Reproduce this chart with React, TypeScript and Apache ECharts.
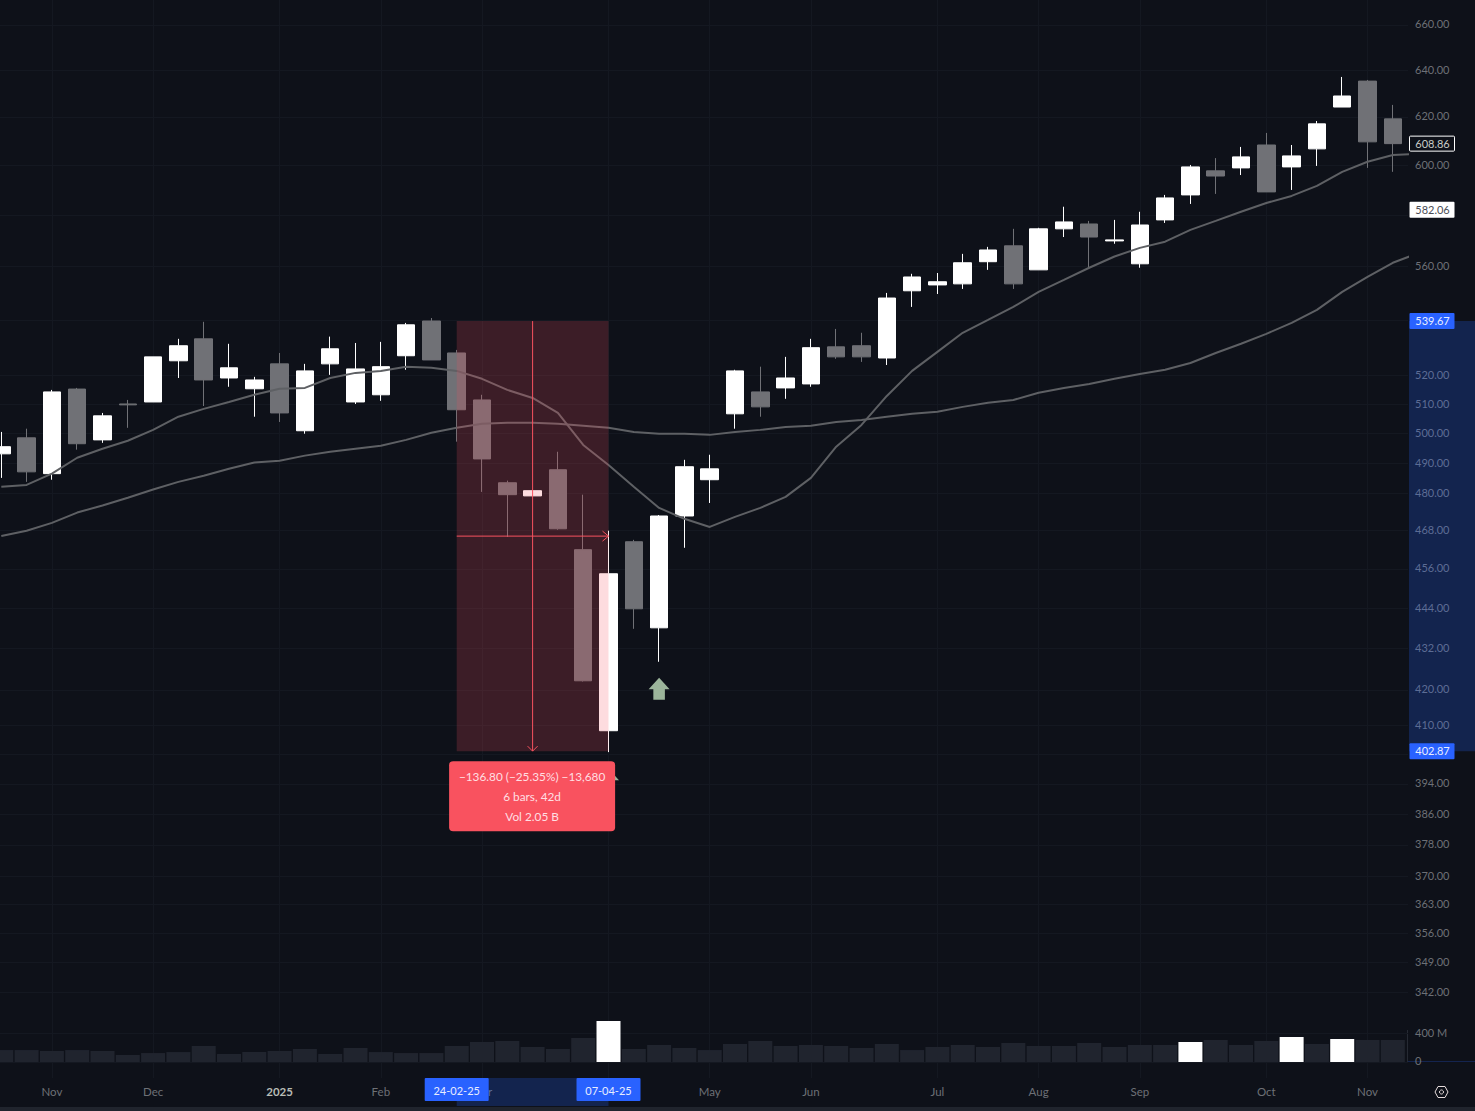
import React, { useEffect, useRef } from "react";
import * as echarts from "echarts";

const weeks = [
  "2024-10-21","2024-10-28","2024-11-04","2024-11-11","2024-11-18","2024-11-25","2024-12-02","2024-12-09","2024-12-16","2024-12-23",
  "2024-12-30","2025-01-06","2025-01-13","2025-01-20","2025-01-27","2025-02-03","2025-02-10","2025-02-17","2025-02-24","2025-03-03",
  "2025-03-10","2025-03-17","2025-03-24","2025-03-31","2025-04-07","2025-04-14","2025-04-21","2025-04-28","2025-05-05","2025-05-12",
  "2025-05-19","2025-05-26","2025-06-02","2025-06-09","2025-06-16","2025-06-23","2025-06-30","2025-07-07","2025-07-14","2025-07-21",
  "2025-07-28","2025-08-04","2025-08-11","2025-08-18","2025-08-25","2025-09-01","2025-09-08","2025-09-15","2025-09-22","2025-09-29",
  "2025-10-06","2025-10-13","2025-10-20","2025-10-27","2025-11-03","2025-11-10","2025-11-17",
];

// open, close, low, high
const candles = [
  [493.1,495.5,485.1,500.5],[498.5,487.1,483.8,501.6],[486.5,514.3,484.5,515.0],[515.3,496.5,494.5,515.7],[497.8,506.0,496.8,507.0],
  [510.1,509.8,501.9,511.5],[510.8,526.7,510.8,526.7],[525.3,530.7,519.2,533.2],[533.2,518.5,509.4,539.4],[519.2,522.8,516.1,531.4],
  [515.4,518.5,505.7,519.6],[524.2,507.0,503.9,528.1],[500.9,521.7,499.9,524.2],[524.2,529.6,520.3,534.0],[510.8,522.4,510.1,531.7],
  [513.3,523.2,511.2,532.1],[527.1,538.3,522.1,539.0],[539.7,525.6,525.6,540.8],[528.1,508.1,497.2,529.2],[511.5,491.4,480.5,513.3],
  [483.5,479.6,466.0,484.2],[479.2,480.9,479.2,480.9],[487.8,468.6,468.3,493.8],[462.0,422.6,422.4,479.6],[408.5,454.5,402.6,468.0],
  [464.5,443.8,437.8,465.1],[438.1,472.7,428.1,473.0],[472.7,488.8,462.6,491.1],[484.5,488.1,476.9,492.8],[506.7,521.7,501.6,522.1],
  [514.3,509.1,505.7,523.2],[515.7,519.2,511.9,526.7],[517.1,530.0,516.1,533.2],[530.3,526.7,526.0,536.8],[530.7,526.7,524.9,535.4],
  [526.3,548.2,523.8,550.1],[550.9,556.1,544.9,557.3],[553.1,554.3,549.7,557.6],[553.5,561.5,551.6,564.9],[561.9,566.4,558.8,567.6],
  [568.0,553.5,551.6,574.6],[558.8,574.6,558.8,575.0],[574.6,577.3,571.4,583.3],[576.5,571.4,559.2,577.7],[569.9,570.3,568.8,578.1],
  [561.1,576.1,559.6,581.3],[578.1,586.8,576.9,588.0],[588.0,599.3,584.4,600.1],[597.7,595.6,588.4,602.9],[598.9,603.4,596.0,607.5],
  [608.3,589.2,589.2,613.3],[599.3,603.8,590.0,608.3],[606.7,617.1,599.7,618.3],[624.2,628.9,624.2,637.1],[635.3,609.6,598.9,635.8],
  [619.2,608.86,597.3,625.1],
];

const maFast = [
  482.2,482.8,486.5,491.8,494.8,497.5,501.2,505.7,508.4,510.8,513.3,515.4,515.7,519.2,521.0,521.7,523.2,522.8,521.7,518.9,
  515.0,512.2,507.0,496.1,489.4,482.2,475.3,471.8,469.2,472.4,475.3,478.9,485.1,495.5,502.9,512.9,521.7,528.5,535.4,540.1,
  544.9,550.5,555.0,559.6,563.9,567.2,569.6,574.2,577.7,581.3,584.8,587.6,591.6,597.3,601.4,604.2,604.7,
];

const maSlow = [
  466.3,468.0,470.5,473.8,476.1,478.6,481.3,483.8,485.8,488.1,490.2,490.8,492.5,493.8,494.8,495.8,497.8,500.2,501.9,503.3,
  503.6,503.6,503.3,502.6,501.9,500.5,499.9,499.9,499.5,500.5,501.2,502.2,502.6,503.9,504.6,505.7,506.7,507.4,509.1,510.5,
  511.5,514.0,515.7,517.1,518.9,520.6,522.1,524.5,528.1,531.4,535.0,539.0,543.8,550.5,556.1,561.5,565.2,
];

const volumes = [
  168,168,155,168,155,98,126,140,225,112,140,155,183,112,197,140,126,126,225,281,295,211,183,337,576,183,239,197,168,253,
  295,225,239,225,197,253,168,211,239,211,267,225,225,267,211,239,239,281,309,239,295,351,253,323,309,309,
];
const highlightedVolumes = ["2025-04-07", "2025-09-15", "2025-10-13", "2025-10-27"];

const priceLabels = [660,640,620,600,560,520,510,500,490,480,468,456,444,432,420,410,394,386,378,370,363,356,349,342];
const priceGridOnly = [580,540,402];
const volumeTicks = [0, 400];
const monthTicks: [string, string][] = [
  ["2024-11-04","Nov"],["2024-12-02","Dec"],["2025-01-06","2025"],["2025-02-03","Feb"],["2025-03-03","Mar"],
  ["2025-05-05","May"],["2025-06-02","Jun"],["2025-07-07","Jul"],["2025-08-04","Aug"],["2025-09-01","Sep"],["2025-10-06","Oct"],["2025-11-03","Nov"],
];
const monthGridOnly = ["2025-04-07"];

const signalArrows: [string, number][] = [["2025-04-07", 395.1], ["2025-04-21", 420.3]];
const measureStart = "2025-02-24";
const measureEnd = "2025-04-07";
const measureHigh = 539.67;
const measureLow = 402.87;
const measureLines = ["\u2212136.80 (\u221225.35%) \u221213,680", "6 bars, 42d", "Vol 2.05 B"];
const lastPrice = 608.86;
const ma2Price = 582.06;
const dateTags = ["24-02-25", "07-04-25"];

const FONT = "Lato, sans-serif";
const BG = "#0e1119";
const GRID = "#141821";
const AXIS_TEXT = "#6d7076";
const BLUE = "#2962ff";
const BAND = "rgba(41,98,255,0.23)";
const ms = (d: string) => Date.parse(d + "T00:00:00Z");
const WEEK = 7 * 86400000;
const xMin = ms(weeks[0]) - 0.0514 * WEEK;
const xMax = ms(weeks[0]) + 55.6 * WEEK;
const monthLabel: Record<number, string> = {};
monthTicks.forEach(([d, l]) => { monthLabel[ms(d)] = l; });

function renderMeasure(_p: any, api: any) {
  const [x0, y0] = api.coord([ms(measureStart), measureHigh]);
  const [x1, y1] = api.coord([ms(measureEnd), measureLow]);
  const xm = (x0 + x1) / 2;
  const ym = (y0 + y1) / 2;
  const red = "#f7525f";
  const line = (a: number[], b: number[]) => ({
    type: "line",
    shape: { x1: a[0], y1: a[1], x2: b[0], y2: b[1] },
    style: { stroke: red, lineWidth: 1, fill: "none" },
  });
  const bx = xm - 83.5;
  const by = y1 + 10;
  return {
    type: "group",
    children: [
      { type: "rect", shape: { x: x0, y: y0, width: x1 - x0, height: y1 - y0 }, style: { fill: "rgba(247,82,95,0.2)" } },
      line([x0, ym], [x1, ym]),
      line([xm, y0], [xm, y1]),
      { type: "polyline", shape: { points: [[x1 - 6, ym - 5], [x1, ym], [x1 - 6, ym + 5]] }, style: { stroke: red, lineWidth: 1, fill: "none" } },
      { type: "polyline", shape: { points: [[xm - 5, y1 - 5], [xm, y1], [xm + 5, y1 - 5]] }, style: { stroke: red, lineWidth: 1, fill: "none" } },
      { type: "rect", shape: { x: bx, y: by, width: 166, height: 70, r: 4 }, style: { fill: "#f9525f" } },
      ...measureLines.map((t, i) => ({
        type: "text",
        style: { text: t, x: xm - 0.5, y: by + 15.5 + i * 20, fill: "#ffdfe2", font: `11.8px ${FONT}`, align: "center", verticalAlign: "middle" },
      })),
    ],
  };
}

function renderTags(p: any, api: any) {
  const cs = p.coordSys;
  const right = cs.x + cs.width;
  const yOf = (v: number) => api.coord([ms(weeks[0]), v])[1];
  const xOf = (d: string) => api.coord([ms(d), measureHigh])[0];
  const yH = yOf(measureHigh);
  const yL = yOf(measureLow);
  const priceTag = (v: number, fill: string, stroke: string | null, color: string, h = 16) => {
    const y = yOf(v);
    return [
      { type: "rect", shape: { x: right + 1.5, y: y - h / 2, width: 45, height: h, r: 1 }, style: { fill, stroke: stroke || undefined, lineWidth: stroke ? 1 : 0 } },
      { type: "text", style: { text: v.toFixed(2), x: right + 24.5, y: y - 0.5, fill: color, font: `11px ${FONT}`, align: "center", verticalAlign: "middle" } },
    ];
  };
  const x0 = xOf(measureStart);
  const x1 = xOf(measureEnd);
  const dateTag = (xc: number, t: string) => [
    { type: "rect", shape: { x: xc - 32, y: 1078, width: 64, height: 23, r: 1 }, style: { fill: BLUE } },
    { type: "text", style: { text: t, x: xc, y: 1090.5, fill: "#e8edff", font: `11px ${FONT}`, align: "center", verticalAlign: "middle" } },
  ];
  return {
    type: "group",
    children: [
      { type: "rect", shape: { x: right + 1, y: yH, width: 67, height: yL - yH }, style: { fill: BAND } },
      { type: "rect", shape: { x: x0, y: 1078, width: x1 - x0, height: 28 }, style: { fill: BAND } },
      ...priceTag(measureHigh, BLUE, null, "#e8edff"),
      ...priceTag(measureLow, BLUE, null, "#e8edff"),
      ...priceTag(lastPrice, BG, "#ffffff", "#c8cdc6", 15),
      ...priceTag(ma2Price, "#ffffff", null, "#4b4e55"),
      ...dateTag(x0, dateTags[0]),
      ...dateTag(x1, dateTags[1]),
    ],
  };
}

function makeOption(): any {
  const grids = [
    { left: 0, top: 0, width: 1408, height: 1078 },
    { left: 0, top: 1020, width: 1408, height: 42 },
  ];
  const labelMs = monthTicks.map(([d]) => ms(d));
  const gridMs = [...labelMs, ...monthGridOnly.map(ms)].sort((a, b) => a - b);
  return {
    animation: false,
    backgroundColor: BG,
    textStyle: { fontFamily: FONT },
    grid: grids,
    xAxis: [
      {
        type: "value", gridIndex: 0, min: xMin, max: xMax, scale: true,
        axisLine: { show: false },
        axisTick: { show: false, customValues: gridMs },
        splitLine: { show: true, lineStyle: { color: GRID, width: 1 } },
        axisLabel: {
          customValues: labelMs,
          margin: 7,
          hideOverlap: false,
          showMinLabel: true,
          showMaxLabel: true,
          color: AXIS_TEXT,
          fontSize: 11.5,
          fontFamily: FONT,
          formatter: (v: number) => {
            const l = monthLabel[v] || "";
            return l === "2025" ? `{b|${l}}` : l;
          },
          rich: { b: { color: "#b9bdb6", fontWeight: 700, fontSize: 11.5, fontFamily: FONT } },
        },
      },
      {
        type: "value", gridIndex: 1, min: xMin, max: xMax, scale: true,
        axisLine: { show: false }, axisTick: { show: false }, axisLabel: { show: false }, splitLine: { show: false },
      },
    ],
    yAxis: [
      {
        type: "log", gridIndex: 0, logBase: 10, position: "right",
        min: 322.6, max: 671.31,
        axisLine: { show: false },
        axisTick: { show: false, customValues: [...priceLabels, ...priceGridOnly].sort((a, b) => a - b) },
        splitLine: { show: true, lineStyle: { color: GRID, width: 1 } },
        axisLabel: {
          customValues: priceLabels, margin: 7, color: AXIS_TEXT, fontSize: 11, fontFamily: FONT,
          verticalAlign: "bottom", lineHeight: 2,
          formatter: (v: number) => Number(v).toFixed(2),
        },
      },
      {
        type: "value", gridIndex: 1, position: "right", min: 0, max: 590,
        axisLine: { show: false },
        axisTick: { show: false, customValues: volumeTicks },
        splitLine: { show: true, lineStyle: { color: GRID, width: 1 } },
        axisLabel: {
          customValues: volumeTicks, margin: 7, color: AXIS_TEXT, fontSize: 11, fontFamily: FONT,
          verticalAlign: "bottom", lineHeight: 3,
          formatter: (v: number) => (v === 0 ? "0" : `${v} M`),
        },
      },
    ],
    series: [
      {
        type: "bar", name: "Volume", xAxisIndex: 1, yAxisIndex: 1, barWidth: 24, z: 1,
        itemStyle: { color: "#20242e" },
        data: volumes.map((v, i) => ({
          value: [ms(weeks[i]), v],
          itemStyle: highlightedVolumes.includes(weeks[i]) ? { color: "#ffffff" } : undefined,
        })),
      },
      {
        type: "candlestick", name: "Price", xAxisIndex: 0, yAxisIndex: 0, barWidth: 18, z: 2,
        itemStyle: { color: "#ffffff", color0: "#707176", borderColor: "#ffffff", borderColor0: "#707176", borderWidth: 1 },
        data: candles.map((c, i) => [ms(weeks[i]), ...c]),
      },
      {
        type: "line", name: "MA fast", xAxisIndex: 0, yAxisIndex: 0, showSymbol: false, z: 3,
        lineStyle: { color: "#5e6064", width: 2 },
        data: maFast.map((v, i) => [ms(weeks[i]), v]),
      },
      {
        type: "line", name: "MA slow", xAxisIndex: 0, yAxisIndex: 0, showSymbol: false, z: 3,
        lineStyle: { color: "#5e6064", width: 2 },
        data: maSlow.map((v, i) => [ms(weeks[i]), v]),
      },
      {
        type: "scatter", name: "Signals", xAxisIndex: 0, yAxisIndex: 0, z: 3,
        symbol: "path://M10 0 L20 11 L15.5 11 L15.5 21 L4.5 21 L4.5 11 L0 11 Z",
        symbolSize: [21, 22],
        itemStyle: { color: "#9cb59b", opacity: 1 },
        data: signalArrows.map(([d, v]) => [ms(d), v]),
      },
      {
        type: "custom", name: "Measure", xAxisIndex: 0, yAxisIndex: 0, z: 5, clip: false,
        renderItem: renderMeasure, data: [[ms(measureStart), measureHigh]], silent: true,
      },
      {
        type: "custom", name: "Tags", xAxisIndex: 0, yAxisIndex: 0, z: 6, clip: false,
        renderItem: renderTags, data: [[ms(measureEnd), measureLow]], silent: true,
      },
    ],
    graphic: [
      { type: "rect", z: 0, shape: { x: 1408, y: 1061, width: 67, height: 1 }, style: { fill: "#14244f" } },
      { type: "rect", z: 0, shape: { x: 1407, y: 1030, width: 1, height: 32 }, style: { fill: "#262a33" } },
      { type: "rect", z: 0, shape: { x: 0, y: 1107, width: 1475, height: 4 }, style: { fill: "#20242d" } },
      {
        type: "polygon", z: 10,
        shape: { points: [[1435, 1092], [1438, 1086.5], [1445, 1086.5], [1448, 1092], [1445, 1097.5], [1438, 1097.5]] },
        style: { fill: "none", stroke: "#e6dcdc", lineWidth: 1 },
      },
      { type: "circle", z: 10, shape: { cx: 1441.5, cy: 1092, r: 2 }, style: { fill: "none", stroke: "#e6dcdc", lineWidth: 1 } },
    ],
  };
}

export default function App() {
  const ref = useRef<HTMLDivElement>(null);
  useEffect(() => {
    document.body.style.margin = "0";
    document.body.style.background = BG;
    document.documentElement.style.overflow = "hidden";
    const chart = echarts.init(ref.current!, undefined, { renderer: "svg" });
    chart.setOption(makeOption());
    return () => chart.dispose();
  }, []);
  return <div ref={ref} style={{ position: "fixed", left: 0, top: 0, width: 1475, height: 1111 }} />;
}
